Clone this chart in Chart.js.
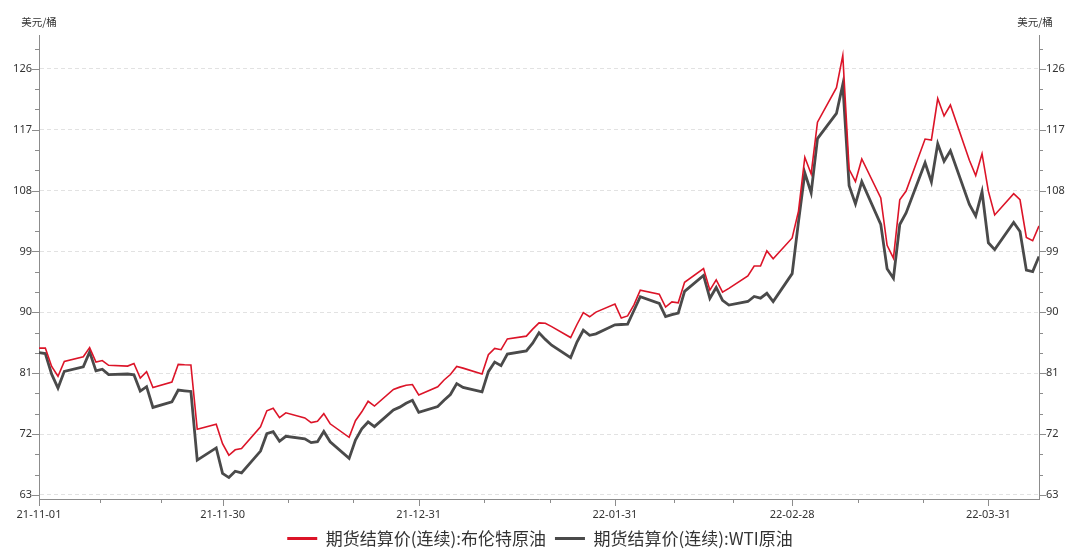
<!DOCTYPE html>
<html>
<head>
<meta charset="utf-8">
<script src="https://cdn.jsdelivr.net/npm/chart.js@4.4.1/dist/chart.umd.min.js"></script>
<style>
html, body { margin: 0; padding: 0; background: #fff; }
#wrap { width: 1080px; height: 549px; }
</style>
</head>
<body>
<div id="wrap"><canvas id="oil-chart"></canvas></div>
<script>
// trading days shown on the chart
const dates = [
  '2021-11-01','2021-11-02','2021-11-03','2021-11-04','2021-11-05','2021-11-08','2021-11-09','2021-11-10','2021-11-11','2021-11-12',
  '2021-11-15','2021-11-16','2021-11-17','2021-11-18','2021-11-19','2021-11-22','2021-11-23','2021-11-24','2021-11-25','2021-11-26',
  '2021-11-29','2021-11-30',
  '2021-12-01','2021-12-02','2021-12-03','2021-12-06','2021-12-07','2021-12-08','2021-12-09','2021-12-10','2021-12-13','2021-12-14',
  '2021-12-15','2021-12-16','2021-12-17','2021-12-20','2021-12-21','2021-12-22','2021-12-23','2021-12-24','2021-12-27','2021-12-28',
  '2021-12-29','2021-12-30','2021-12-31',
  '2022-01-03','2022-01-04','2022-01-05','2022-01-06','2022-01-07','2022-01-10','2022-01-11','2022-01-12','2022-01-13','2022-01-14',
  '2022-01-17','2022-01-18','2022-01-19','2022-01-20','2022-01-21','2022-01-24','2022-01-25','2022-01-26','2022-01-27','2022-01-28',
  '2022-01-31',
  '2022-02-01','2022-02-02','2022-02-03','2022-02-04','2022-02-07','2022-02-08','2022-02-09','2022-02-10','2022-02-11','2022-02-14',
  '2022-02-15','2022-02-16','2022-02-17','2022-02-18','2022-02-21','2022-02-22','2022-02-23','2022-02-24','2022-02-25','2022-02-28',
  '2022-03-01','2022-03-02','2022-03-03','2022-03-04','2022-03-07','2022-03-08','2022-03-09','2022-03-10','2022-03-11','2022-03-14',
  '2022-03-15','2022-03-16','2022-03-17','2022-03-18','2022-03-21','2022-03-22','2022-03-23','2022-03-24','2022-03-25','2022-03-28',
  '2022-03-29','2022-03-30','2022-03-31',
  '2022-04-01','2022-04-04','2022-04-05','2022-04-06','2022-04-07','2022-04-08'
];

const brent = [
  84.71, 84.72, 81.99, 80.54, 82.74, 83.43, 84.78, 82.64, 82.87, 82.17,
  82.05, 82.43, 80.28, 81.24, 78.89, 79.70, 82.31, 82.25, 82.22, 72.72,
  73.44, 70.57,
  68.87, 69.67, 69.88, 73.08, 75.44, 75.82, 74.42, 75.15, 74.39, 73.70,
  73.88, 75.02, 73.52, 71.52, 73.98, 75.29, 76.85, 76.14, 78.60, 78.94,
  79.23, 79.32, 77.78,
  78.98, 80.00, 80.80, 81.99, 81.75, 80.87, 83.72, 84.67, 84.47, 86.06,
  86.48, 87.51, 88.44, 88.38, 87.89, 86.27, 88.20, 89.96, 89.34, 90.03,
  91.21,
  89.16, 89.47, 91.11, 93.27, 92.69, 90.78, 91.55, 91.41, 94.44, 96.48,
  93.28, 94.81, 92.97, 93.54, 95.39, 96.84, 96.84, 99.08, 97.93, 100.99,
  104.97, 112.93, 110.46, 118.11, 123.21, 127.98, 111.14, 109.33, 112.67, 106.90,
  99.91, 98.02, 106.64, 107.93, 115.62, 115.48, 121.60, 119.03, 120.65, 112.48,
  110.23, 113.45, 107.91,
  104.39, 107.53, 106.64, 101.07, 100.58, 102.78
];

const wti = [
  84.05, 83.91, 80.86, 78.81, 81.27, 81.93, 84.15, 81.34, 81.59, 80.79,
  80.88, 80.76, 78.36, 79.01, 75.94, 76.75, 78.50, 78.39, 78.30, 68.15,
  69.95, 66.18,
  65.57, 66.50, 66.26, 69.49, 72.05, 72.36, 70.94, 71.67, 71.29, 70.73,
  70.87, 72.38, 70.86, 68.40, 71.12, 72.76, 73.79, 73.10, 75.57, 75.98,
  76.56, 76.99, 75.21,
  76.08, 76.99, 77.85, 79.46, 78.90, 78.23, 81.22, 82.64, 82.12, 83.82,
  84.30, 85.43, 86.96, 86.00, 85.14, 83.31, 85.60, 87.35, 86.61, 86.82,
  88.15,
  88.20, 88.26, 90.27, 92.31, 91.32, 89.36, 89.66, 89.88, 93.10, 95.46,
  92.07, 93.66, 91.76, 91.07, 91.60, 92.35, 92.10, 92.81, 91.59, 95.72,
  103.41, 110.60, 107.67, 115.68, 119.40, 123.70, 108.70, 106.02, 109.33, 103.01,
  96.44, 95.04, 102.98, 104.70, 112.12, 109.27, 114.93, 112.34, 113.90, 105.96,
  104.24, 107.82, 100.28,
  99.27, 103.28, 101.96, 96.23, 96.03, 98.26
];

const tickLabels = ['21-11-01', '21-11-30', '21-12-31', '22-01-31', '22-02-28', '22-03-31'];
const yTicks = [63, 72, 81, 90, 99, 108, 117, 126];
const unitLabel = '美元/桶';
const seriesNames = ['期货结算价(连续):布伦特原油', '期货结算价(连续):WTI原油'];

// day offsets from the first date
const start = Date.UTC(2021, 10, 1);
function dayOf(s) {
  const p = s.split('-');
  return (Date.UTC(+p[0], p[1] - 1, +p[2]) - start) / 86400000;
}
const days = dates.map(dayOf);
const majorDays = tickLabels.map(l => dayOf('20' + l));
const minorDays = [];
for (let i = 0; i < majorDays.length - 1; i++) {
  const step = (majorDays[i + 1] - majorDays[i]) / 3;
  minorDays.push(majorDays[i] + step, majorDays[i] + 2 * step);
}
const xMax = days[days.length - 1];

const tickFont = { family: '"Noto Sans", "Noto Sans CJK SC", sans-serif', size: 11 };

const tickMarks = {
  id: 'tickMarks',
  afterDraw(chart) {
    const { ctx, scales: { x, y, y2 } } = chart;
    ctx.save();
    ctx.strokeStyle = '#8c8c8c';
    ctx.lineWidth = 1;
    ctx.beginPath();
    majorDays.forEach(d => {
      const px = Math.round(x.getPixelForValue(d)) + 0.5;
      ctx.moveTo(px, x.top); ctx.lineTo(px, x.top + 7);
    });
    minorDays.forEach(d => {
      const px = Math.round(x.getPixelForValue(d)) + 0.5;
      ctx.moveTo(px, x.top); ctx.lineTo(px, x.top + 4);
    });
    for (let v = yTicks[0]; v <= y.max; v += 3) {
      const py = Math.round(y.getPixelForValue(v)) + 0.5;
      const len = yTicks.includes(v) ? 7 : 4;
      ctx.moveTo(y.right - len, py); ctx.lineTo(y.right, py);
      ctx.moveTo(y2.left, py); ctx.lineTo(y2.left + len, py);
    }
    ctx.stroke();
    ctx.fillStyle = '#333';
    ctx.font = '10.5px "Noto Sans CJK SC", sans-serif';
    ctx.textAlign = 'center';
    ctx.textBaseline = 'middle';
    ctx.fillText(unitLabel, y.right, 22);
    ctx.fillText(unitLabel, y2.left - 4, 22);
    ctx.restore();
  }
};

const yCommon = {
  type: 'linear',
  min: 62.4,
  max: 131,
  afterBuildTicks: s => { s.ticks = yTicks.map(v => ({ value: v })); },
  ticks: { color: '#333', font: tickFont, padding: 0 },
  border: { color: '#8c8c8c' }
};

new Chart(document.getElementById('oil-chart'), {
  type: 'line',
  data: {
    datasets: [{
      label: seriesNames[0],
      data: days.map((d, i) => ({ x: d, y: brent[i] })),
      borderColor: '#dc1428',
      backgroundColor: '#dc1428',
      borderWidth: 1.6,
      pointRadius: 0,
      tension: 0
    }, {
      label: seriesNames[1],
      data: days.map((d, i) => ({ x: d, y: wti[i] })),
      borderColor: '#4a4a4a',
      backgroundColor: '#4a4a4a',
      borderWidth: 2.8,
      pointRadius: 0,
      tension: 0
    }]
  },
  options: {
    responsive: true,
    maintainAspectRatio: false,
    animation: false,
    layout: { padding: { top: 35, left: 0, right: 0, bottom: 0 } },
    plugins: {
      tooltip: { enabled: false },
      legend: {
        position: 'bottom',
        maxHeight: 28,
        labels: {
          boxWidth: 30,
          boxHeight: 3,
          padding: 9,
          color: '#333',
          font: { family: '"Noto Sans CJK SC", sans-serif', size: 17 },
          generateLabels(chart) {
            return Chart.defaults.plugins.legend.labels.generateLabels(chart)
              .map(l => Object.assign(l, { lineWidth: 0 }));
          }
        }
      }
    },
    scales: {
      x: {
        type: 'linear',
        min: 0,
        max: xMax,
        afterBuildTicks: s => {
          s.ticks = majorDays.concat(minorDays).sort((a, b) => a - b).map(v => ({ value: v }));
        },
        afterFit: s => { s.height = 22; },
        grid: { drawOnChartArea: false, drawTicks: true, tickLength: 7, tickColor: 'rgba(0,0,0,0)' },
        border: { color: '#8c8c8c' },
        ticks: {
          autoSkip: false,
          maxRotation: 0,
          padding: 2,
          color: '#333',
          font: tickFont,
          callback: v => {
            const i = majorDays.indexOf(v);
            return i >= 0 ? tickLabels[i] : '';
          }
        }
      },
      y: Object.assign({}, yCommon, {
        position: 'left',
        afterFit: s => { s.width = 39; },
        grid: { color: '#e2e2e2', drawTicks: true, tickLength: 7, tickColor: 'rgba(0,0,0,0)' },
        border: { color: '#8c8c8c', dash: [4, 3] }
      }),
      y2: Object.assign({}, yCommon, {
        position: 'right',
        afterFit: s => { s.width = 41; },
        grid: { drawOnChartArea: false, drawTicks: true, tickLength: 7, tickColor: 'rgba(0,0,0,0)' }
      })
    }
  },
  plugins: [tickMarks]
});
</script>
</body>
</html>
